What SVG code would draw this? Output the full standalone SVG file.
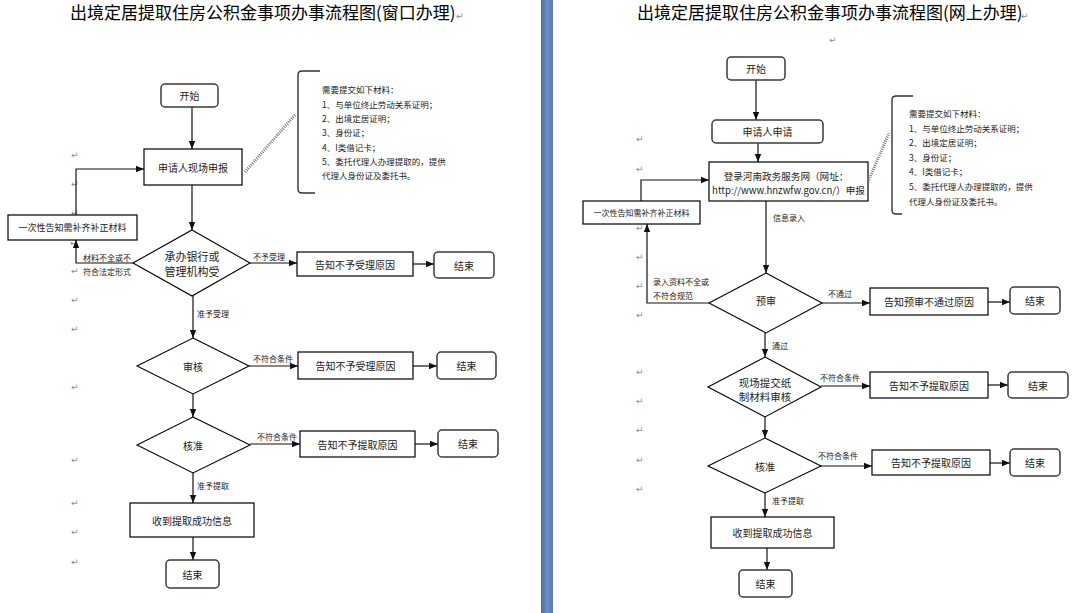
<svg xmlns="http://www.w3.org/2000/svg" width="1079" height="613" viewBox="0 0 1079 613">
<style>
.box{fill:#fff;stroke:#000;stroke-width:1.2}
.rbox{fill:#fff;stroke:#3a3a3a;stroke-width:1.5}
.dia{fill:#fff;stroke:#000;stroke-width:1.1}
.t{font-family:"Noto Sans CJK SC","Liberation Sans",sans-serif;fill:#222;text-anchor:middle;dominant-baseline:central;font-size:10px}
.l{font-family:"Noto Sans CJK SC","Liberation Sans",sans-serif;fill:#222;dominant-baseline:central;font-size:8px}
.m{font-family:"Noto Sans CJK SC","Liberation Sans",sans-serif;fill:#222;dominant-baseline:central;font-size:8.5px}
.title{font-family:"Noto Sans CJK SC","Liberation Sans",sans-serif;fill:#000;font-size:17px}
.conn path{stroke:#111;stroke-width:1.2;fill:none;marker-end:url(#ah)}
.dot{stroke:#777;stroke-width:3;stroke-dasharray:1 1.2;fill:none}
.br{stroke:#333;stroke-width:1.4;fill:none}
.pm{font-family:"DejaVu Sans",sans-serif;font-size:9px;fill:#8a8a8a}
</style>
<defs>
<marker id="ah" markerUnits="userSpaceOnUse" markerWidth="8" markerHeight="8" refX="8" refY="4" orient="auto">
<path d="M0,0.8 L8,4 L0,7.2 z" fill="#111"/>
</marker>
<linearGradient id="bar" x1="0" x2="1" y1="0" y2="0">
<stop offset="0" stop-color="#4c6ca0"/>
<stop offset="0.5" stop-color="#6d8ec2"/>
<stop offset="1" stop-color="#587aae"/>
</linearGradient>
</defs>
<rect x="0" y="0" width="1079" height="613" fill="#fff"/>
<rect x="541" y="0" width="12" height="613" fill="url(#bar)"/>

<!-- titles -->
<text class="title" x="70" y="19">出境定居提取住房公积金事项办事流程图(窗口办理)</text>
<text class="pm" x="456" y="19">↵</text>
<text class="title" x="637" y="19">出境定居提取住房公积金事项办事流程图(网上办理)</text>
<text class="pm" x="1021" y="19">↵</text>

<!-- paragraph marks -->
<g id="marks">
<text class="pm" x="71" y="158">↵</text><text class="pm" x="71" y="187">↵</text><text class="pm" x="71" y="216">↵</text>
<text class="pm" x="70" y="246">↵</text><text class="pm" x="71" y="274">↵</text><text class="pm" x="71" y="303">↵</text>
<text class="pm" x="71" y="332">↵</text><text class="pm" x="71" y="390">↵</text><text class="pm" x="71" y="463">↵</text>
<text class="pm" x="71" y="506">↵</text><text class="pm" x="71" y="535">↵</text><text class="pm" x="71" y="565">↵</text>
<text class="pm" x="636" y="142">↵</text><text class="pm" x="636" y="172">↵</text><text class="pm" x="636" y="231">↵</text>
<text class="pm" x="636" y="260">↵</text><text class="pm" x="636" y="289">↵</text><text class="pm" x="636" y="318">↵</text>
<text class="pm" x="636" y="375">↵</text><text class="pm" x="636" y="404">↵</text><text class="pm" x="636" y="433">↵</text>
<text class="pm" x="636" y="463">↵</text><text class="pm" x="636" y="492">↵</text><text class="pm" x="829" y="43">↵</text>
</g>

<!-- connectors -->
<g id="connectors" class="conn">
<path d="M192,107 V149"/>
<path d="M192,185 V230"/>
<path d="M133,263 H76 V240"/>
<path d="M76,215 V169 H144"/>
<path d="M250,263 H297"/>
<path d="M413,264 H434"/>
<path d="M193,296 V338"/>
<path d="M249,366 H298"/>
<path d="M413,366 H437"/>
<path d="M193,394 V417"/>
<path d="M250,444 H300"/>
<path d="M415,444 H438"/>
<path d="M193,473 V503"/>
<path d="M193,537 V560"/>

<path d="M756,80 V120"/>
<path d="M758,143 V162"/>
<path d="M766,201 V273"/>
<path d="M641,201 V180 H709"/>
<path d="M709,303 H647 V224"/>
<path d="M822,303 H870"/>
<path d="M988,302 H1010"/>
<path d="M765,333 V357"/>
<path d="M821,386 H870"/>
<path d="M988,385 H1008"/>
<path d="M765,417 V438"/>
<path d="M821,466 H872"/>
<path d="M990,463 H1010"/>
<path d="M765,493 V517"/>
<path d="M767,548 V570"/>
</g>

<!-- connector labels -->
<g id="labels">
<text class="l" x="83" y="257">材料不全或不</text>
<text class="l" x="83" y="271">符合法定形式</text>
<text class="l" x="253" y="256">不予受理</text>
<text class="l" x="197" y="313">准予受理</text>
<text class="l" x="253" y="358">不符合条件</text>
<text class="l" x="257" y="436">不符合条件</text>
<text class="l" x="197" y="485">准予提取</text>

<text class="l" x="773" y="217">信息录入</text>
<text class="l" x="653" y="281">录入资料不全或</text>
<text class="l" x="653" y="295">不符合规范</text>
<text class="l" x="828" y="293">不通过</text>
<text class="l" x="772" y="345">通过</text>
<text class="l" x="820" y="377">不符合条件</text>
<text class="l" x="818" y="455">不符合条件</text>
<text class="l" x="772" y="500">准予提取</text>
</g>

<!-- left page nodes -->
<g id="L_start"><rect class="rbox" x="161" y="84" width="57" height="23" rx="4"/><text class="t" x="189.5" y="95.5">开始</text></g>
<g id="L_apply"><rect class="box" x="144" y="149" width="98" height="36"/><text class="t" x="193" y="167">申请人现场申报</text></g>
<g id="L_accept"><polygon class="dia" points="192,230 250,263 192,296 133,263"/><text class="t" x="192" y="256" style="font-size:11px">承办银行或</text><text class="t" x="192" y="271" style="font-size:11px">管理机构受</text></g>
<g id="L_supp"><rect class="box" x="8" y="215" width="129" height="25"/><text class="t" x="72.5" y="227.5" style="font-size:9px">一次性告知需补齐补正材料</text></g>
<g id="L_reject1"><rect class="box" x="297" y="252" width="116" height="24"/><text class="t" x="355" y="264">告知不予受理原因</text></g>
<g id="L_end1"><rect class="rbox" x="434" y="252" width="60" height="26" rx="4"/><text class="t" x="464" y="265">结束</text></g>
<g id="L_review"><polygon class="dia" points="193,338 249,366 193,394 137,366"/><text class="t" x="193" y="366">审核</text></g>
<g id="L_reject2"><rect class="box" x="298" y="352" width="115" height="27"/><text class="t" x="355.5" y="365.5">告知不予受理原因</text></g>
<g id="L_end2"><rect class="rbox" x="437" y="352" width="59" height="27" rx="4"/><text class="t" x="466.5" y="365.5">结束</text></g>
<g id="L_approve"><polygon class="dia" points="193,417 250,445 193,473 137,445"/><text class="t" x="193" y="445">核准</text></g>
<g id="L_reject3"><rect class="box" x="300" y="431" width="115" height="26"/><text class="t" x="357.5" y="444">告知不予提取原因</text></g>
<g id="L_end3"><rect class="rbox" x="438" y="430" width="60" height="27" rx="4"/><text class="t" x="468" y="443.5">结束</text></g>
<g id="L_success"><rect class="box" x="130" y="503" width="124" height="34"/><text class="t" x="192" y="520">收到提取成功信息</text></g>
<g id="L_end4"><rect class="rbox" x="166" y="560" width="53" height="28" rx="4"/><text class="t" x="192.5" y="574">结束</text></g>
<g id="L_materials">
<path class="dot" d="M245,172 L295,115"/>
<path class="br" d="M320,71 L302,71 Q298,71 298,75 L298,189 Q298,193 302,193 L315,193"/>
<text class="m" x="322" y="89">需要提交如下材料：</text>
<text class="m" x="322" y="104">1、与单位终止劳动关系证明；</text>
<text class="m" x="322" y="118">2、出境定居证明；</text>
<text class="m" x="322" y="132">3、身份证；</text>
<text class="m" x="322" y="147">4、I类借记卡；</text>
<text class="m" x="322" y="161">5、委托代理人办理提取的，提供</text>
<text class="m" x="322" y="175">代理人身份证及委托书。</text>
</g>

<!-- right page nodes -->
<g id="R_start"><rect class="rbox" x="727" y="57" width="58" height="23" rx="4"/><text class="t" x="756" y="68.5">开始</text></g>
<g id="R_apply"><rect class="rbox" x="712" y="120" width="111" height="23" rx="4"/><text class="t" x="767.5" y="131.5">申请人申请</text></g>
<g id="R_login"><rect class="box" x="709" y="162" width="159" height="39"/><text class="t" x="786" y="176" style="font-size:9.6px">登录河南政务服务网（网址：</text><text class="t" x="788.5" y="190" style="font-size:9.6px">http://www.hnzwfw.gov.cn/）申报</text></g>
<g id="R_supp"><rect class="box" x="583" y="201" width="117" height="23"/><text class="t" x="641.5" y="212.5" style="font-size:8px">一次性告知需补齐补正材料</text></g>
<g id="R_pre"><polygon class="dia" points="766,273 822,303 766,333 709,303"/><text class="t" x="766" y="300">预审</text></g>
<g id="R_reject1"><rect class="box" x="870" y="288" width="118" height="27"/><text class="t" x="929" y="301.5">告知预审不通过原因</text></g>
<g id="R_end1"><rect class="rbox" x="1010" y="287" width="50" height="27" rx="4"/><text class="t" x="1035" y="300.5">结束</text></g>
<g id="R_site"><polygon class="dia" points="765,357 821,387 765,417 708,387"/><text class="t" x="765" y="382" style="font-size:10.5px">现场提交纸</text><text class="t" x="765" y="396" style="font-size:10.5px">制材料审核</text></g>
<g id="R_reject2"><rect class="box" x="870" y="372" width="118" height="26"/><text class="t" x="929" y="385">告知不予提取原因</text></g>
<g id="R_end2"><rect class="rbox" x="1008" y="372" width="60" height="26" rx="4"/><text class="t" x="1038" y="385">结束</text></g>
<g id="R_approve"><polygon class="dia" points="765,438 821,466 765,493 708,466"/><text class="t" x="765" y="466">核准</text></g>
<g id="R_reject3"><rect class="box" x="872" y="450" width="118" height="25"/><text class="t" x="931" y="462.5">告知不予提取原因</text></g>
<g id="R_end3"><rect class="rbox" x="1010" y="449" width="50" height="27" rx="4"/><text class="t" x="1035" y="462.5">结束</text></g>
<g id="R_success"><rect class="box" x="711" y="517" width="123" height="31"/><text class="t" x="772.5" y="532.5">收到提取成功信息</text></g>
<g id="R_end4"><rect class="rbox" x="739" y="570" width="53" height="27" rx="4"/><text class="t" x="765.5" y="583.5">结束</text></g>
<g id="R_materials">
<path class="dot" d="M868,182 L889,133"/>
<path class="br" d="M913,96 L896,96 Q892,96 892,100 L892,210 Q892,214 896,214 L902,214"/>
<text class="m" x="909" y="113">需要提交如下材料：</text>
<text class="m" x="909" y="127.6">1、与单位终止劳动关系证明；</text>
<text class="m" x="909" y="142.2">2、出境定居证明；</text>
<text class="m" x="909" y="156.8">3、身份证；</text>
<text class="m" x="909" y="171.4">4、I类借记卡；</text>
<text class="m" x="909" y="186">5、委托代理人办理提取的，提供</text>
<text class="m" x="909" y="200.6">代理人身份证及委托书。</text>
</g>
</svg>
